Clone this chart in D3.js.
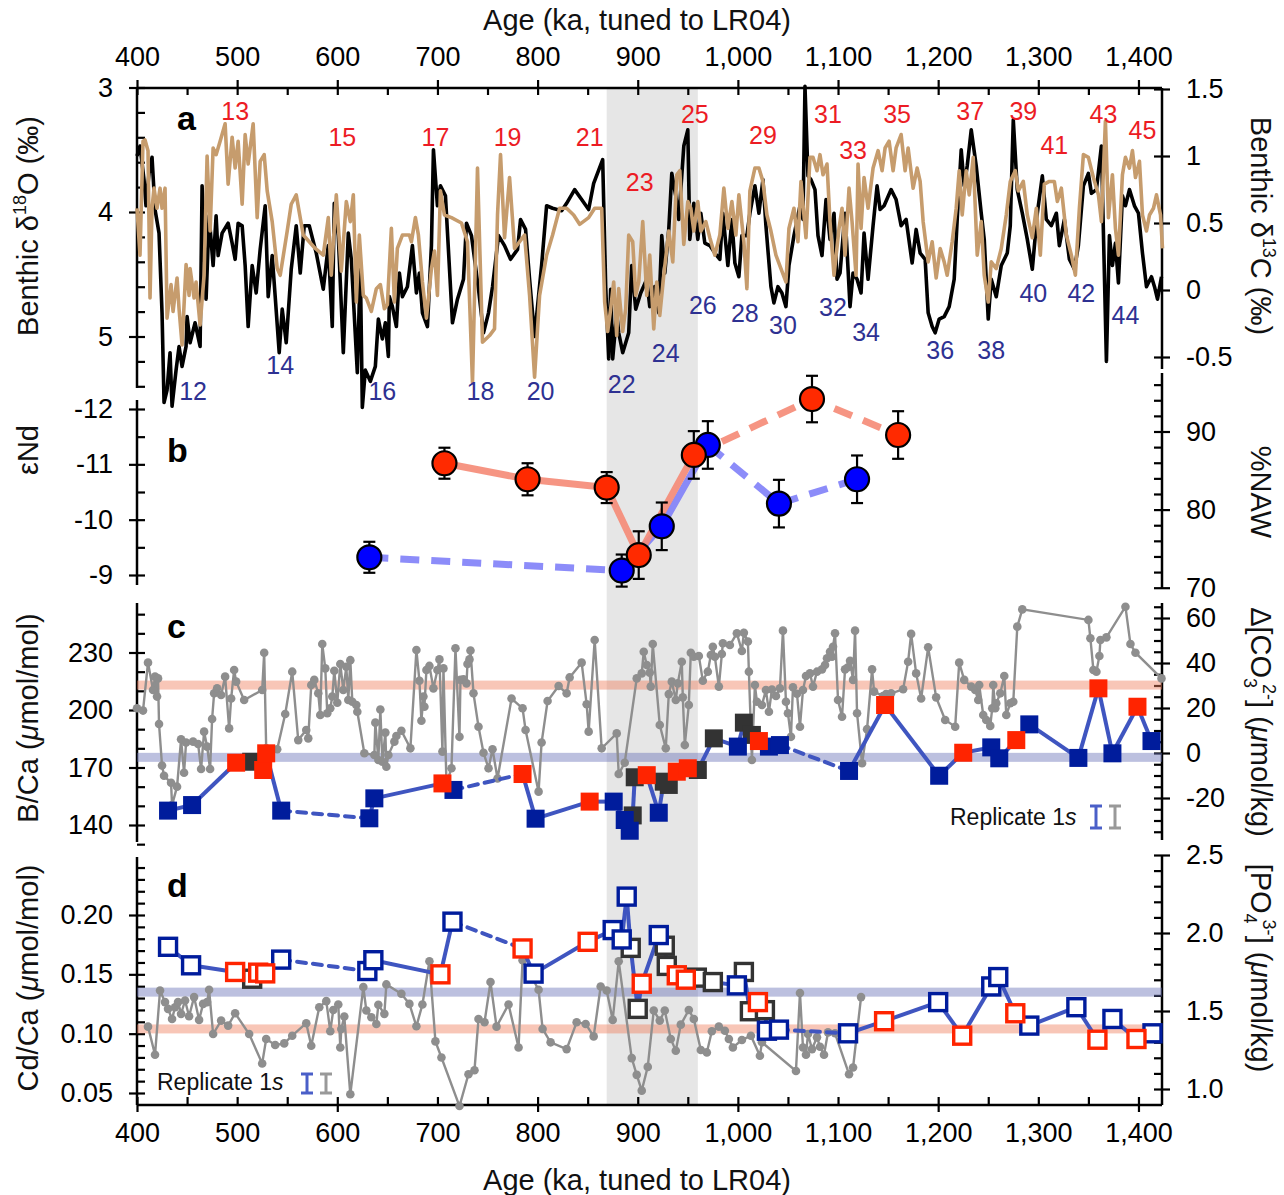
<!DOCTYPE html>
<html>
<head>
<meta charset="utf-8">
<script src="https://d3js.org/d3.v7.min.js"></script>
<style>
  body { margin: 0; background: #fff; }
  text { font-family: "Liberation Sans", Arial, sans-serif; }
</style>
</head>
<body>
<svg id="chart" width="1284" height="1195"></svg>
<script>
// ---- data ----
const ageTicks = d3.range(400, 1401, 100);

// panel a: benthic d18O (black) and d13C (tan)
const d18O = [[400,3.55],[403,3.47],[407,3.74],[409,3.95],[412,3.69],[415,3.56],[418,3.98],[422,4.17],[425,4.81],[427,5.53],[430,5.43],[433,5.13],[435,5.56],[439,5.27],[442,5.08],[445,5.24],[449,5.08],[450,4.84],[453,5.05],[458,4.89],[463,5.08],[465,3.79],[469,4.70],[472,4.03],[476,4.43],[479,4.03],[481,4.35],[485,4.17],[491,4.09],[495,4.25],[498,4.38],[501,4.09],[505,4.11],[508,4.43],[511,4.92],[515,4.43],[519,4.65],[523,4.30],[528,3.95],[531,4.68],[535,4.35],[538,4.68],[542,5.13],[545,4.78],[549,5.05],[554,4.46],[559,4.11],[563,4.49],[567,4.11],[572,4.11],[579,4.33],[586,4.62],[591,4.27],[595,4.92],[597,3.93],[601,4.19],[606,5.13],[611,4.17],[614,4.38],[620,5.29],[623,4.43],[625,5.57],[628,5.27],[633,5.36],[638,5.24],[641,4.86],[645,5.02],[648,4.89],[651,5.16],[652,4.68],[655,4.76],[659,4.92],[662,4.49],[665,4.68],[670,4.60],[675,4.27],[679,4.65],[682,4.49],[685,4.81],[690,4.92],[694,4.27],[696,3.50],[700,3.95],[703,3.79],[708,3.87],[715,4.89],[720,4.70],[726,4.54],[729,4.09],[734,4.19],[741,4.62],[746,4.97],[751,4.81],[755,4.60],[761,4.19],[767,4.27],[773,4.38],[780,4.30],[783,4.06],[788,4.14],[792,4.54],[797,5.00],[804,4.43],[809,3.95],[815,3.97],[824,3.99],[829,3.93],[837,3.82],[844,3.90],[851,3.98],[856,3.77],[865,3.58],[868,4.60],[871,5.18],[873,4.62],[875,5.18],[879,4.81],[881,4.97],[885,5.13],[891,4.97],[894,4.43],[898,4.78],[903,4.65],[909,4.54],[912,4.76],[917,4.60],[921,4.81],[924,4.19],[927,4.49],[931,4.14],[934,3.69],[938,3.87],[941,4.06],[946,3.47],[950,3.34],[952,4.22],[956,3.93],[960,4.22],[963,4.01],[967,4.25],[972,4.27],[977,4.33],[982,4.38],[985,4.01],[990,4.43],[994,4.06],[997,4.41],[1001,4.52],[1004,4.19],[1009,4.19],[1012,4.01],[1017,3.79],[1021,4.01],[1025,3.74],[1028,4.11],[1033,4.60],[1036,4.73],[1040,4.60],[1044,4.65],[1048,4.76],[1051,4.43],[1056,4.19],[1062,3.95],[1065,4.06],[1067,2.99],[1070,3.71],[1073,3.74],[1077,3.82],[1080,4.19],[1084,4.35],[1088,3.90],[1092,4.22],[1096,4.01],[1099,4.54],[1102,4.49],[1107,4.01],[1112,4.76],[1115,4.49],[1119,4.54],[1123,4.65],[1126,4.17],[1130,4.54],[1135,4.11],[1139,3.79],[1142,3.98],[1146,3.95],[1153,3.82],[1158,3.90],[1163,4.11],[1168,4.06],[1174,4.41],[1178,4.14],[1182,4.33],[1187,4.38],[1190,4.81],[1194,4.92],[1197,4.97],[1201,4.86],[1206,4.84],[1211,4.76],[1216,4.54],[1219,4.06],[1223,3.50],[1226,3.79],[1229,3.63],[1233,3.34],[1238,3.63],[1243,4.01],[1246,4.22],[1250,4.86],[1253,4.54],[1258,4.68],[1263,4.43],[1269,4.33],[1272,4.11],[1275,3.26],[1279,3.82],[1284,4.01],[1289,4.22],[1294,4.46],[1299,4.01],[1304,3.71],[1308,4.06],[1313,4.11],[1318,4.01],[1321,4.27],[1326,4.06],[1331,4.38],[1336,4.46],[1340,4.27],[1345,3.79],[1350,3.69],[1353,3.85],[1358,3.82],[1363,3.47],[1368,5.20],[1371,4.19],[1374,4.43],[1377,4.25],[1380,4.57],[1384,3.87],[1387,3.95],[1391,3.82],[1396,3.95],[1400,4.01],[1404,4.33],[1408,4.60],[1413,4.52],[1416,4.60],[1419,4.70],[1423,4.52]];

const d13C = [[400,0.61],[403,0.26],[406,1.11],[408,1.12],[411,1.04],[413,-0.06],[415,0.61],[417,0.76],[420,0.61],[423,0.76],[425,0.61],[428,0.76],[430,-0.21],[434,0.04],[436,-0.16],[440,0.09],[442,-0.14],[445,-0.41],[449,0.19],[452,-0.04],[453,0.16],[457,-0.06],[459,0.06],[463,-0.26],[467,0.11],[470,1.00],[473,0.44],[476,1.06],[479,1.01],[483,1.11],[488,1.24],[491,0.79],[495,1.14],[498,0.91],[501,1.11],[505,0.64],[508,1.16],[511,0.94],[516,1.24],[520,0.54],[523,0.96],[527,1.01],[530,0.74],[535,0.51],[540,0.16],[543,0.11],[550,0.44],[554,0.64],[559,0.71],[566,0.41],[578,0.31],[586,0.26],[591,0.54],[594,0.11],[599,0.71],[604,0.14],[609,0.66],[613,0.51],[616,0.71],[619,-0.09],[622,0.41],[626,-0.04],[629,-0.06],[634,-0.16],[639,0.01],[643,0.04],[647,-0.14],[650,-0.11],[654,0.46],[657,-0.09],[660,0.31],[665,0.41],[672,0.41],[674,0.36],[678,0.54],[681,0.41],[685,0.06],[689,-0.21],[694,0.16],[697,0.29],[700,-0.04],[703,0.74],[707,0.56],[714,0.54],[724,0.50],[730,0.36],[735,-0.69],[740,0.91],[745,-0.39],[752,-0.34],[757,-0.29],[760,0.56],[763,1.01],[767,0.39],[772,0.84],[777,0.31],[782,0.36],[787,0.41],[792,-0.04],[797,-0.65],[802,-0.04],[809,0.26],[815,0.41],[822,0.61],[829,0.61],[836,0.56],[842,0.49],[851,0.54],[857,0.61],[864,0.61],[867,-0.09],[870,-0.31],[873,-0.14],[876,0.06],[879,-0.34],[881,0.01],[885,-0.31],[888,-0.14],[891,0.41],[895,0.36],[898,-0.04],[901,0.06],[905,0.51],[909,-0.04],[912,0.26],[916,-0.29],[919,0.06],[922,-0.19],[926,0.11],[931,0.44],[935,0.21],[939,0.86],[942,0.89],[946,0.34],[950,0.66],[953,0.61],[956,0.44],[960,0.66],[963,0.44],[968,0.51],[972,0.39],[977,0.26],[982,0.41],[986,0.76],[990,0.46],[994,0.66],[998,0.41],[1001,0.71],[1006,0.36],[1009,0.01],[1012,0.74],[1017,0.91],[1021,0.91],[1025,0.81],[1029,0.56],[1033,0.44],[1038,0.26],[1043,0.16],[1048,0.06],[1051,0.46],[1056,0.61],[1060,0.36],[1063,0.81],[1068,0.39],[1072,0.99],[1075,0.99],[1079,0.89],[1082,1.01],[1085,0.86],[1089,0.94],[1092,0.51],[1096,0.11],[1101,0.46],[1104,0.61],[1107,0.26],[1111,0.76],[1114,0.51],[1118,0.11],[1120,0.94],[1123,0.46],[1126,0.84],[1130,0.61],[1135,0.91],[1140,1.04],[1144,0.89],[1147,1.06],[1151,1.11],[1155,0.89],[1158,1.06],[1163,1.16],[1167,0.89],[1170,1.06],[1175,0.76],[1179,0.91],[1182,0.81],[1185,0.51],[1190,0.21],[1194,0.36],[1198,0.09],[1202,0.31],[1206,0.21],[1209,0.11],[1214,0.36],[1218,0.61],[1221,0.89],[1224,0.56],[1228,0.89],[1231,0.71],[1235,0.99],[1239,0.26],[1243,0.51],[1246,0.11],[1250,-0.09],[1253,0.21],[1258,0.16],[1263,0.31],[1268,0.56],[1272,0.81],[1277,0.89],[1280,0.74],[1285,0.81],[1289,0.56],[1294,0.39],[1298,0.61],[1302,0.26],[1306,0.79],[1311,0.81],[1316,0.81],[1319,0.66],[1323,0.76],[1328,0.41],[1333,0.26],[1337,0.11],[1341,0.61],[1345,1.01],[1350,0.99],[1355,0.84],[1360,0.71],[1363,0.51],[1367,1.26],[1370,0.54],[1374,0.86],[1377,0.46],[1380,0.26],[1384,0.86],[1387,0.99],[1391,0.91],[1394,1.04],[1397,0.84],[1401,0.96],[1404,0.56],[1408,0.44],[1411,0.56],[1415,0.61],[1418,0.71],[1422,0.56],[1424,0.31]];

// marine isotope stage labels: [stage, age, d18O level]
const misOdd = [[13,498,3.19],[15,605,3.40],[17,698,3.40],[19,770,3.40],[21,852,3.40],[23,902,3.76],[25,957,3.21],[29,1025,3.38],[31,1090,3.21],[33,1115,3.50],[35,1159,3.21],[37,1232,3.19],[39,1285,3.19],[41,1316,3.46],[43,1365,3.21],[45,1404,3.34]];
const misEven = [[12,456,5.44],[14,543,5.23],[16,645,5.44],[18,743,5.44],[20,803,5.44],[22,884,5.38],[24,928,5.13],[26,965,4.75],[28,1007,4.81],[30,1045,4.91],[32,1095,4.76],[34,1128,4.96],[36,1202,5.11],[38,1253,5.11],[40,1295,4.65],[42,1343,4.65],[44,1387,4.83]];

// panel b: eNd [age, value, 1s]
const ndRed = [[707,-11.02,0.28],[790,-10.73,0.29],[869,-10.58,0.28],[901,-9.36,0.43],[956,-11.17,0.43],[1074,-12.18,0.42],[1160,-11.53,0.43]];
const ndBlue = [[632,-9.32,0.28],[884,-9.08,0.29],[924,-9.88,0.43],[970,-11.35,0.43],[1041,-10.29,0.43],[1119,-10.73,0.43]];

// panel c: B/Ca
const bcaBlue = [[431,147.5],[455,150.4],[544,147.5],[632,143.5],[637,153.9],[716,158.3],[798,143.3],[876,152.2],[887,142.6],[892,137],[921,146.4],[1000,180.9],[1031,180.9],[1042,181.7],[1111,168.2],[1201,165.7],[1253,180.5],[1261,174.8],[1291,192.5],[1340,175],[1374,177.4],[1413,183.8]];
const bcaRed = [[499,172.5],[526,168.7],[529,177.4],[705,161.7],[785,166.6],[852,152.2],[909,166],[939,167.8],[950,169.6],[1021,183.8],[1147,202.6],[1225,177.7],[1278,184.3],[1360,211.3],[1399,201.7]];
const bcaBlack = [[514,173],[895,145],[897,164.9],[926,162.6],[931,160.9],[960,168.7],[976,185.2],[1006,193.4],[1014,187]];
const bcaGaps = [[544,632],[716,785],[1042,1111]];
const bcaGray = [[400,200.9],[406,199.7],[411,224.7],[416,210.4],[418,217.4],[420,207],[421,216.5],[422,192.7],[425,171],[427,165.7],[434,162],[435,150.4],[440,160],[444,184.7],[447,167.3],[449,183],[456,183.5],[461,182.3],[464,169.2],[467,188.7],[470,180.9],[473,169.2],[475,195.3],[477,208.7],[480,211.3],[484,207.8],[488,217.4],[492,190.4],[494,206],[497,220.9],[499,214.8],[507,205.2],[525,210.4],[527,229.9],[529,180],[540,179.5],[548,197.9],[555,220],[561,184.3],[569,189.6],[571,185.2],[574,213],[577,215.7],[581,208.7],[583,197.4],[585,234.4],[588,221.7],[590,198.3],[593,200.9],[595,207],[597,220.5],[600,203.8],[603,224],[606,210.4],[609,222.6],[611,205.2],[613,226],[615,204.3],[619,202.6],[620,199.1],[627,177.4],[637,176.5],[638,193.4],[641,173.9],[643,200.3],[645,173],[648,188.2],[649,170.4],[651,176.5],[657,183.5],[659,186.4],[664,189.2],[673,180],[679,231.3],[682,215.3],[684,194.4],[686,207],[687,201.7],[689,220.9],[692,223],[696,211.3],[700,220.9],[702,226.4],[705,178.3],[706,221.7],[709,161.7],[714,169.6],[718,232.2],[722,186],[723,215.7],[726,216],[729,213.9],[730,224],[732,226.4],[733,231],[736,208.7],[741,191.3],[746,177.7],[751,169.6],[755,179.5],[760,164.3],[774,206],[785,200.9],[788,189.6],[801,157.4],[804,183],[810,204.7],[821,212.5],[829,208.7],[832,217],[844,224.7],[849,203],[851,188.7],[857,236.5],[864,180],[879,187.8],[881,166.6],[887,172.5],[899,216.5],[904,219.1],[906,230.4],[909,223.5],[912,219.5],[913,212.2],[915,234.4],[922,192.2],[928,180],[931,208.3],[934,214.8],[938,205.2],[940,213.9],[944,225.2],[945,206.6],[947,181.7],[951,202.6],[953,229.9],[956,227.8],[961,228.2],[965,215.3],[970,220],[973,228.7],[975,233],[977,227.8],[981,212.2],[984,229.2],[985,234.8],[992,233.9],[999,240],[1004,230.8],[1006,240.3],[1010,235.7],[1011,220],[1014,173.9],[1017,213],[1019,204.3],[1024,202.6],[1028,210.4],[1031,199.1],[1034,210.7],[1038,207.3],[1042,211.3],[1045,241.4],[1048,204.3],[1050,198.3],[1053,186],[1055,211.9],[1059,208.5],[1062,191.3],[1065,210.4],[1068,217.7],[1072,219.1],[1075,212.2],[1079,220],[1084,221.2],[1087,223.5],[1089,227],[1092,230.4],[1094,227.8],[1095,233],[1097,240],[1100,205.2],[1104,196.5],[1107,221.2],[1110,222.3],[1112,225.7],[1115,215.7],[1117,241.4],[1119,198.3],[1124,172.2],[1129,190],[1134,221.2],[1136,209.6],[1145,207.3],[1148,208.3],[1153,208.7],[1165,210.8],[1170,225.2],[1173,239.7],[1178,219.1],[1183,206],[1190,232.7],[1198,206.6],[1207,194.8],[1217,191.3],[1221,224.7],[1226,215.7],[1233,212.2],[1237,210.4],[1240,205.2],[1241,213],[1245,197.4],[1248,194.8],[1252,191.7],[1254,200.9],[1255,213],[1257,200.9],[1258,203.5],[1262,208.7],[1266,217.7],[1268,197.4],[1272,203.5],[1275,204.3],[1279,243.5],[1284,252.5],[1350,247],[1352,237.4],[1355,220.9],[1358,220],[1361,228.2],[1362,236.5],[1368,237.9],[1387,253.9],[1392,234.4],[1397,229.9],[1423,216.5]];
const bcaBands = [[213,"#f08060"],[175.3,"#6a74b8"]];

// panel d: Cd/Ca
const cdBlue = [[431,.1732],[454,.1576],[544,.1624],[630,.1528],[636,.1619],[715,.1944],[796,.1506],[875,.1873],[884,.1794],[889,.2155],[921,.1831],[999,.1407],[1029,.1025],[1041,.1034],[1110,.1003],[1200,.1266],[1253,.1398],[1260,.1477],[1291,.1068],[1338,.1223],[1374,.1124],[1414,.1003]];
const cdRed = [[498,.152],[521,.1514],[528,.1508],[703,.15],[785,.1718],[850,.1774],[904,.1421],[939,.1492],[948,.1455],[1020,.1266],[1146,.1105],[1224,.0983],[1277,.1172],[1359,.0949],[1398,.0955]];
const cdBlack = [[515,.1463],[893,.1723],[900,.1209],[927,.1741],[929,.1571],[959,.1472],[975,.1435],[1006,.152],[1012,.1189],[1027,.1198]];
const cdGaps = [[544,630],[715,785],[1041,1110]];
const cdGray = [[411,.1059],[418,.0822],[423,.1364],[428,.1266],[431,.1209],[435,.1124],[438,.1223],[441,.1266],[444,.1167],[448,.128],[452,.1147],[457,.1308],[462,.1116],[466,.1251],[470,.1266],[472,.137],[476,.0997],[484,.111],[491,.1068],[498,.1172],[512,.0997],[525,.0749],[529,.0955],[538,.0904],[547,.0918],[555,.0983],[569,.1088],[574,.0898],[582,.1223],[589,.1274],[593,.102],[596,.12],[601,.1246],[603,.0884],[604,.1039],[607,.1144],[613,.0489],[626,.1393],[629,.1195],[634,.1138],[639,.1082],[641,.1243],[647,.1167],[649,.1415],[664,.1336],[672,.1251],[679,.1062],[685,.1246],[692,.161],[698,.0935],[704,.0799],[722,.039],[731,.0658],[737,.0692],[741,.1124],[747,.1096],[753,.1435],[759,.1059],[771,.1246],[781,.0884],[785,.1619],[801,.137],[805,.104],[813,.0927],[829,.087],[839,.1096],[848,.1082],[856,.0977],[863,.1398],[869,.1364],[875,.1116],[881,.161],[894,.0794],[899,.0653],[904,.052],[910,.072],[916,.1195],[922,.111],[927,.1195],[933,.0955],[938,.0856],[943,.1076],[951,.12],[956,.1124],[963,.0862],[969,.0842],[974,.102],[981,.1059],[987,.1025],[991,.0955],[995,.0884],[1004,.0946],[1013,.0983],[1022,.0814],[1024,.0927],[1058,.0686],[1062,.1342],[1065,.0884],[1068,.0822],[1070,.0997],[1074,.087],[1079,.0969],[1082,.089],[1086,.0822],[1090,.1011],[1097,.1003],[1111,.0658],[1115,.0715],[1123,.1308]];
const cdBands = [[0.135,"#6a74b8"],[0.104,"#f08060"]];

const shadeAges = [869, 960];

// ---- drawing ----
const F = '"Liberation Sans", Arial, sans-serif';
const svg = d3.select("#chart");
const x = d3.scaleLinear().domain([400, 1423.5]).range([137, 1162]);
const yO = d3.scaleLinear().domain([3, 5]).range([87.5, 336.5]);
const yC = d3.scaleLinear().domain([1.5, -0.5]).range([89, 357]);
const yNd = d3.scaleLinear().domain([-12, -9]).range([409, 575]);
const yNaw = d3.scaleLinear().domain([90, 70]).range([431.5, 587.7]);
const yB = d3.scaleLinear().domain([230, 140]).range([652.5, 825]);
const yCO3 = d3.scaleLinear().domain([60, -20]).range([618, 798]);
const yCd = d3.scaleLinear().domain([0.2, 0.05]).range([915, 1093]);
const yP = d3.scaleLinear().domain([2.5, 1.0]).range([855, 1089]);

const BLUE = "#001c9c", RED = "#ff2400", DARK = "#333333", GRAY = "#8e8e8e", LINEBLUE = "#3f55c0";
const TICKFONT = 27;

// grey interval
svg.append("rect")
  .attr("x", x(shadeAges[0])).attr("width", x(shadeAges[1]) - x(shadeAges[0]))
  .attr("y", 88).attr("height", 1105 - 88)
  .attr("fill", "#e6e6e6");

// ---- axes ----
function rng(a, b, s) { return d3.range(Math.round(a / s), Math.round(b / s) + 1).map(i => +(i * s).toFixed(4)); }

function yAxis(scale, side, xPos, ext, majors, minors, fmt) {
  const g = svg.append("g").attr("transform", `translate(${xPos},0)`);
  const mk = () => side === "left" ? d3.axisLeft(scale) : d3.axisRight(scale);
  g.append("g").call(mk().tickValues(majors).tickSize(8).tickPadding(16).tickFormat(fmt))
    .attr("font-size", TICKFONT).attr("font-family", F);
  g.append("g").call(mk().tickValues(majors.concat(minors)).tickSize(-8).tickFormat(""));
  g.selectAll(".domain").remove();
  g.selectAll(".tick line").attr("stroke-width", 2.2);
  g.append("line").attr("y1", ext[0]).attr("y2", ext[1]).attr("stroke", "#000").attr("stroke-width", 2.5);
}
const plain = d => String(d);

yAxis(yO, "left", 137, [88, 388], [3, 4, 5], rng(3.2, 5.4, 0.2).filter(v => v % 1 !== 0), plain);
yAxis(yC, "right", 1162, [88, 369], [1.5, 1, 0.5, 0, -0.5], [], plain);
yAxis(yNd, "left", 137, [400, 585], [-12, -11, -10, -9], [-11.5, -10.5, -9.5], plain);
yAxis(yNaw, "right", 1162, [373, 588], [90, 80, 70], rng(72, 96, 2).filter(v => v % 10 !== 0), plain);
yAxis(yB, "left", 137, [603, 842], [140, 170, 200, 230], rng(130, 250, 10).filter(v => (v - 140) % 30 !== 0), plain);
yAxis(yCO3, "right", 1162, [603, 840], [60, 40, 20, 0, -20], rng(-35, 65, 5).filter(v => v % 20 !== 0), plain);
yAxis(yCd, "left", 137, [857, 1105], [0.05, 0.10, 0.15, 0.20], rng(0.05, 0.24, 0.01).filter(v => Math.round(v * 100) % 5 !== 0), d3.format(".2f"));
yAxis(yP, "right", 1162, [855, 1105], [1.0, 1.5, 2.0, 2.5], rng(1.0, 2.5, 0.1).filter(v => Math.round(v * 10) % 5 !== 0), d3.format(".1f"));

// top age axis
const gt = svg.append("g").attr("transform", "translate(0,88)");
gt.append("g").call(d3.axisTop(x).tickValues(ageTicks).tickSize(8).tickPadding(14).tickFormat(d3.format(",")))
  .attr("font-size", TICKFONT).attr("font-family", F);
gt.append("g").call(d3.axisTop(x).tickValues(rng(400, 1400, 50)).tickSize(-7).tickFormat(""));
gt.selectAll(".domain").remove();
gt.selectAll(".tick line").attr("stroke-width", 2.2);
gt.append("line").attr("x1", 137).attr("x2", 1162).attr("stroke", "#000").attr("stroke-width", 2.5);

// bottom age axis
const gb = svg.append("g").attr("transform", "translate(0,1105)");
gb.append("g").call(d3.axisBottom(x).tickValues(ageTicks).tickSize(0).tickPadding(18).tickFormat(d3.format(",")))
  .attr("font-size", TICKFONT).attr("font-family", F);
gb.append("g").call(d3.axisBottom(x).tickValues(rng(400, 1400, 200)).tickSize(7).tickFormat(""));
gb.append("g").call(d3.axisBottom(x).tickValues(rng(400, 1400, 50)).tickSize(-8).tickFormat(""));
gb.selectAll(".domain").remove();
gb.selectAll(".tick line").attr("stroke-width", 2.2);
gb.append("line").attr("x1", 137).attr("x2", 1162).attr("stroke", "#000").attr("stroke-width", 2.5);

// axis titles with sub/superscripts
function title(px, py, rot, parts) {
  const t = svg.append("text").attr("transform", `translate(${px},${py}) rotate(${rot})`)
    .attr("text-anchor", "middle").attr("font-size", 29).attr("fill", "#111");
  let shift = 0;
  parts.forEach(p => {
    const s = t.append("tspan").text(p.t);
    const target = p.sup ? -12 : p.sub ? 7 : 0;
    if (target !== shift) s.attr("dy", target - shift);
    shift = target;
    if (p.sup || p.sub) s.attr("font-size", 18);
    if (p.it) s.attr("font-style", "italic");
    if (p.dx) s.attr("dx", p.dx);
  });
}
title(637, 30, 0, [{t: "Age (ka, tuned to LR04)"}]);
title(637, 1190, 0, [{t: "Age (ka, tuned to LR04)"}]);
title(38, 226, -90, [{t: "Benthic δ"}, {t: "18", sup: 1}, {t: "O (‰)"}]);
title(38, 450, -90, [{t: "εNd"}]);
title(38, 718, -90, [{t: "B/Ca ("}, {t: "μ", it: 1}, {t: "mol/mol)"}]);
title(38, 978, -90, [{t: "Cd/Ca ("}, {t: "μ", it: 1}, {t: "mol/mol)"}]);
title(1251, 226, 90, [{t: "Benthic δ"}, {t: "13", sup: 1}, {t: "C (‰)"}]);
title(1251, 492, 90, [{t: "%NAW"}]);
title(1251, 722, 90, [{t: "Δ[CO"}, {t: "3", sub: 1}, {t: "2-", sup: 1, dx: -4}, {t: "] ("}, {t: "μ", it: 1}, {t: "mol/kg)"}]);
title(1251, 968, 90, [{t: "[PO"}, {t: "4", sub: 1}, {t: "3-", sup: 1, dx: -4}, {t: "] ("}, {t: "μ", it: 1}, {t: "mol/kg)"}]);

// panel letters
[["a", 177, 130], ["b", 167, 462], ["c", 167, 638], ["d", 167, 897]].forEach(([l, px, py]) =>
  svg.append("text").attr("x", px).attr("y", py).attr("font-size", 34).attr("font-weight", "bold").text(l));

// ---- panel a ----
svg.append("path").datum(d18O)
  .attr("d", d3.line().x(d => x(d[0])).y(d => yO(d[1])))
  .attr("fill", "none").attr("stroke", "#000").attr("stroke-width", 3.6).attr("stroke-linejoin", "round");
svg.append("path").datum(d13C)
  .attr("d", d3.line().x(d => x(d[0])).y(d => yC(d[1])))
  .attr("fill", "none").attr("stroke", "#c69c6d").attr("stroke-width", 3.6).attr("stroke-linejoin", "round");

svg.append("g").selectAll("text").data(misOdd).join("text")
  .attr("x", d => x(d[1])).attr("y", d => yO(d[2])).attr("dy", "0.36em")
  .attr("text-anchor", "middle").attr("font-size", 25).attr("fill", "#ec1c24").text(d => d[0]);
svg.append("g").selectAll("text").data(misEven).join("text")
  .attr("x", d => x(d[1])).attr("y", d => yO(d[2])).attr("dy", "0.36em")
  .attr("text-anchor", "middle").attr("font-size", 25).attr("fill", "#2e3192").text(d => d[0]);

// ---- panel b ----
const ndLine = d3.line().x(d => x(d[0])).y(d => yNd(d[1]));
function seg(data, i0, i1, color, dashed) {
  svg.append("path").datum(data.slice(i0, i1 + 1)).attr("d", ndLine)
    .attr("fill", "none").attr("stroke", color).attr("stroke-width", 7)
    .attr("stroke-dasharray", dashed ? "19,12" : null).attr("opacity", 0.9);
}
seg(ndBlue, 0, 1, "#7f7ff8", true);
seg(ndBlue, 1, 3, "#7f7ff8", false);
seg(ndBlue, 3, 5, "#7f7ff8", true);
seg(ndRed, 0, 4, "#f58a76", false);
seg(ndRed, 4, 6, "#f58a76", true);

function circles(data, fill) {
  const g = svg.append("g");
  const eb = g.selectAll("g").data(data).join("g").attr("stroke", "#000").attr("stroke-width", 2.2);
  eb.append("line").attr("x1", d => x(d[0])).attr("x2", d => x(d[0]))
    .attr("y1", d => yNd(d[1] - d[2])).attr("y2", d => yNd(d[1] + d[2]));
  [-1, 1].forEach(s => eb.append("line")
    .attr("x1", d => x(d[0]) - 6).attr("x2", d => x(d[0]) + 6)
    .attr("y1", d => yNd(d[1] + s * d[2])).attr("y2", d => yNd(d[1] + s * d[2])));
  eb.append("circle").attr("cx", d => x(d[0])).attr("cy", d => yNd(d[1])).attr("r", 12)
    .attr("fill", fill);
}
circles(ndBlue, "#0000ff");
circles(ndRed, "#ff2a00");

// ---- panels c and d ----
function bands(list, yScale) {
  svg.append("g").selectAll("rect").data(list).join("rect")
    .attr("x", 137).attr("width", 1162 - 137)
    .attr("y", d => yScale(d[0]) - 4.5).attr("height", 9)
    .attr("fill", d => d[1]).attr("opacity", 0.45);
}
function grayLine(data, yScale) {
  svg.append("path").datum(data).attr("d", d3.line().x(d => x(d[0])).y(d => yScale(d[1])))
    .attr("fill", "none").attr("stroke", GRAY).attr("stroke-width", 2.4);
  svg.append("g").selectAll("circle").data(data).join("circle")
    .attr("cx", d => x(d[0])).attr("cy", d => yScale(d[1])).attr("r", 4.3).attr("fill", GRAY);
}
function linkLine(sets, gaps, yScale) {
  const pts = sets.flat().sort((a, b) => a[0] - b[0]);
  const g = svg.append("g");
  for (let i = 1; i < pts.length; i++) {
    const a = pts[i - 1], b = pts[i];
    const dashed = gaps.some(gp => a[0] >= gp[0] && b[0] <= gp[1]);
    g.append("line").attr("x1", x(a[0])).attr("y1", yScale(a[1])).attr("x2", x(b[0])).attr("y2", yScale(b[1]))
      .attr("stroke", LINEBLUE).attr("stroke-width", 4).attr("stroke-linecap", dashed ? "round" : "butt")
      .attr("stroke-dasharray", dashed ? "9,7" : null);
  }
}
function squares(data, yScale, color, open) {
  const s = open ? 17 : 18;
  svg.append("g").selectAll("rect").data(data).join("rect")
    .attr("x", d => x(d[0]) - s / 2).attr("y", d => yScale(d[1]) - s / 2)
    .attr("width", s).attr("height", s)
    .attr("fill", open ? "#fff" : color)
    .attr("stroke", open ? color : "none").attr("stroke-width", open ? 3.4 : 0);
}
function legend(tx, ty, bx, h) {
  const t = svg.append("text").attr("x", tx).attr("y", ty).attr("font-size", 23).attr("fill", "#111");
  t.append("tspan").text("Replicate 1");
  t.append("tspan").attr("font-style", "italic").text("s");
  [[bx, "#4a5fc8"], [bx + 19, "#999"]].forEach(([cx, col]) => {
    const g = svg.append("g").attr("stroke", col).attr("stroke-width", 3);
    g.append("line").attr("x1", cx).attr("x2", cx).attr("y1", ty - h + 3).attr("y2", ty + 3);
    g.append("line").attr("x1", cx - 6).attr("x2", cx + 6).attr("y1", ty - h + 3).attr("y2", ty - h + 3);
    g.append("line").attr("x1", cx - 6).attr("x2", cx + 6).attr("y1", ty + 3).attr("y2", ty + 3);
  });
}

bands(bcaBands, yB);
grayLine(bcaGray, yB);
linkLine([bcaBlue, bcaRed, bcaBlack], bcaGaps, yB);
squares(bcaBlack, yB, DARK, false);
squares(bcaBlue, yB, BLUE, false);
squares(bcaRed, yB, RED, false);
legend(950, 825, 1096, 22);

bands(cdBands, yCd);
grayLine(cdGray, yCd);
linkLine([cdBlue, cdRed, cdBlack], cdGaps, yCd);
squares(cdBlack, yCd, DARK, true);
squares(cdBlue, yCd, BLUE, true);
squares(cdRed, yCd, RED, true);
legend(157, 1090, 307, 19);
</script>
</body>
</html>
